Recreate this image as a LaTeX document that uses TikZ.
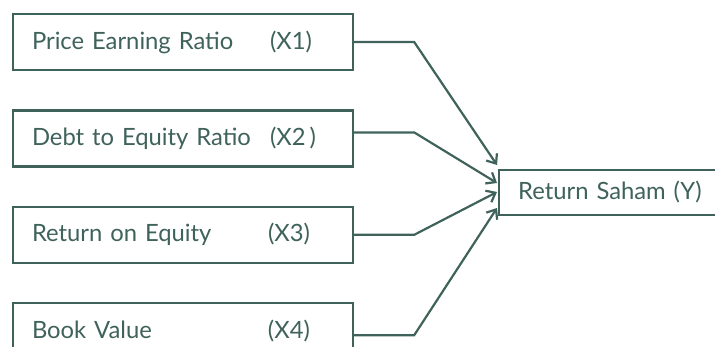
\documentclass[tikz,border=0pt]{standalone}
\usepackage{fontspec}
\setmainfont{Lato}
\usepackage{tikz}
\usetikzlibrary{positioning}
\usetikzlibrary {arrows.meta}
\definecolor{inkteal}{HTML}{3F625B}
\tikzset{factorbox/.style={rectangle,draw=inkteal,fill=white,line width=2.4pt,
inner xsep=19pt,inner ysep=2pt,minimum height=56pt, text width=302pt,align=left,
text=inkteal,font=\fontsize{23.8}{26}\selectfont}}
\tikzset{resultbox/.style={rectangle,draw=inkteal,fill=white,line width=2.4pt,
inner xsep=19pt,inner ysep=2pt,minimum height=45pt, text width=200pt,align=left,
text=inkteal,font=\fontsize{23.8}{26}\selectfont}}
\tikzset{link/.style={draw=inkteal,line width=2.2pt,-{Straight Barb[length=8pt,width=13pt]}}}

\begin{document}
\begin{tikzpicture}
        \useasboundingbox (0pt,0pt) rectangle (715pt,-346pt);

        \node[factorbox] (boxA) at (183pt,-42pt) {\makebox[238pt][l]{Price Earning Ratio}(X1)};
        \node[factorbox] (boxB) [below=38pt of boxA] {\makebox[238pt][l]{Debt to Equity Ratio}(X2\,)};
        \node[factorbox] (boxC) [below=38pt of boxB] {\makebox[236pt][l]{Return on Equity}(X3)};
        \node[factorbox] (boxD) [below=38pt of boxC] {\makebox[236pt][l]{Book Value}(X4)};

        \node[resultbox,anchor=west] (boxY) at (498pt,-192.5pt) {Return Saham (Y)};

        \coordinate (boxAr) at ([xshift=60pt]boxA.east);
        \coordinate (boxBr) at ([xshift=60pt,yshift=6pt]boxB.east);
        \coordinate (boxCr) at ([xshift=60pt]boxC.east);
        \coordinate (boxDr) at ([xshift=60pt,yshift=-4pt]boxD.east);

        \coordinate (boxYa) at ([xshift=-1pt,yshift=27.5pt]boxY.west);
        \coordinate (boxYb) at ([xshift=-1pt,yshift=9.5pt]boxY.west);
        \coordinate (boxYc) at ([xshift=-1pt,yshift=0.5pt]boxY.west);
        \coordinate (boxYd) at ([xshift=-1pt,yshift=-15.5pt]boxY.west);

        \draw [link] (boxA.east) -- (boxAr) -- (boxYa);
        \draw [link] ([yshift=6pt]boxB.east) -- (boxBr) -- (boxYb);
        \draw [link] (boxC.east) -- (boxCr) -- (boxYc);
        \draw [link] ([yshift=-4pt]boxD.east) -- (boxDr) -- (boxYd);

\end{tikzpicture}
\end{document}
